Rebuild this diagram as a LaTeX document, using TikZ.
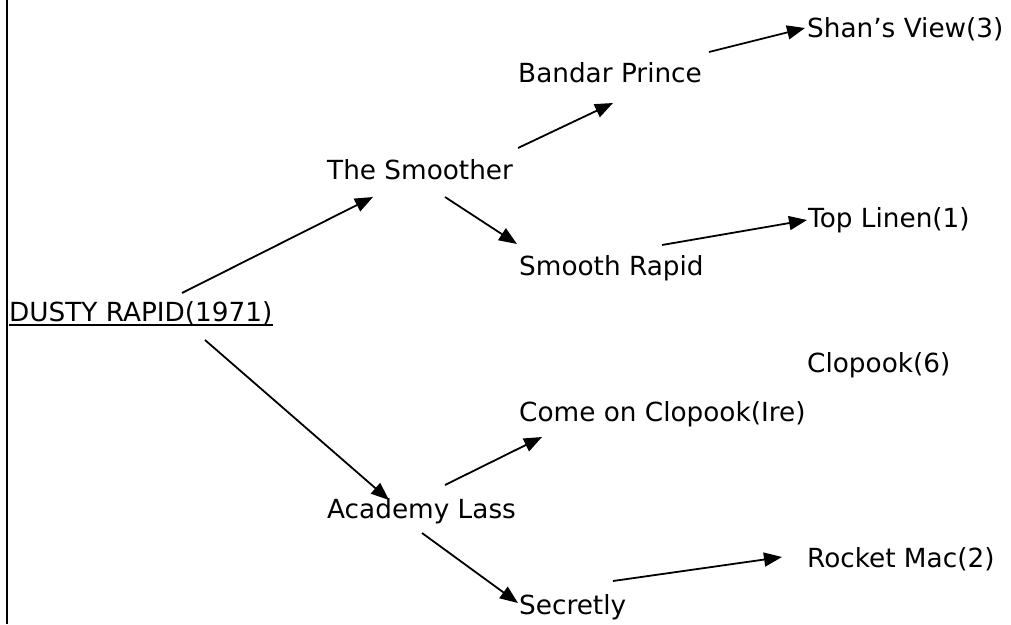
\documentclass[tikz,border=0pt]{standalone}
\usepackage{fontspec}
\setmainfont{DejaVu Sans}
\usetikzlibrary{arrows.meta}
\begin{document}
\begin{tikzpicture}[x=1pt,y=-1pt,
  lbl/.style={anchor=base west,inner sep=0pt,font=\fontsize{26.3}{30}\selectfont},
  conn/.style={line width=1.8pt,-{Triangle[length=18pt,width=14pt]}}]
\useasboundingbox (0,0) rectangle (1011,624);
\draw[line width=2.2pt] (7,0) -- (7,624);
% nodes
\node[lbl] (dusty) at (9,321) {DUSTY RAPID(1971)};
\node[lbl] (smoother) at (327,179) {The Smoother};
\node[lbl] (bandar) at (518,82) {Bandar Prince};
\node[lbl] (shan) at (807,37) {Shan’s View(3)};
\node[lbl] (srapid) at (519,275) {Smooth Rapid};
\node[lbl] (toplinen) at (808,227) {Top Linen(1)};
\node[lbl] (clopook) at (807,372) {Clopook(6)};
\node[lbl] (come) at (519,421) {Come on Clopook(Ire)};
\node[lbl] (academy) at (327,518) {Academy Lass};
\node[lbl] (secretly) at (519,614) {Secretly};
\node[lbl] (rocket) at (807,567) {Rocket Mac(2)};
\draw[line width=1.8pt] ([yshift=-4pt]dusty.base west) -- ([yshift=-4pt]dusty.base east);
% connector ends
\coordinate (a1s) at (182,293); \coordinate (a1e) at (373,197);
\coordinate (a2s) at (205,340); \coordinate (a2e) at (389,500);
\coordinate (a3s) at (518,148); \coordinate (a3e) at (613,103);
\coordinate (a4s) at (445,197); \coordinate (a4e) at (517,244);
\coordinate (a5s) at (709,52);  \coordinate (a5e) at (805,28);
\coordinate (a6s) at (662,245); \coordinate (a6e) at (807,220);
\coordinate (a7s) at (445,485); \coordinate (a7e) at (542,437);
\coordinate (a8s) at (422,533); \coordinate (a8e) at (518,603);
\coordinate (a9s) at (613,581); \coordinate (a9e) at (782,557);
\draw[conn] (a1s) -- (a1e);
\draw[conn] (a2s) -- (a2e);
\draw[conn] (a3s) -- (a3e);
\draw[conn] (a4s) -- (a4e);
\draw[conn] (a5s) -- (a5e);
\draw[conn] (a6s) -- (a6e);
\draw[conn] (a7s) -- (a7e);
\draw[conn] (a8s) -- (a8e);
\draw[conn] (a9s) -- (a9e);
\end{tikzpicture}
\end{document}
